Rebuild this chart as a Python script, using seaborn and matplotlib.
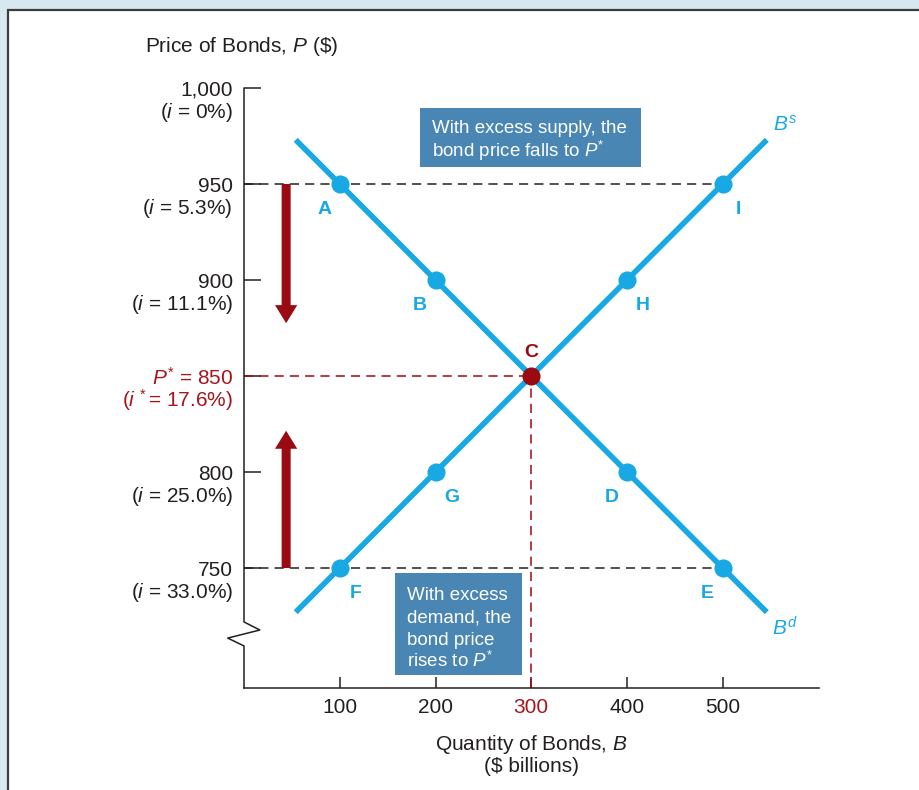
import matplotlib
matplotlib.use("Agg")
import matplotlib.pyplot as plt
from matplotlib.patches import Rectangle
import seaborn as sns
import pandas as pd

sns.set_style("white")
plt.rcParams["font.family"] = ["Liberation Sans", "DejaVu Sans"]
plt.rcParams["mathtext.fontset"] = "custom"
plt.rcParams["mathtext.rm"] = "Liberation Sans"
plt.rcParams["mathtext.it"] = "Liberation Sans:italic"
plt.rcParams["mathtext.bf"] = "Liberation Sans:bold"

# ---- data ----
quantity = [100, 200, 300, 400, 500]
demand_price = [950, 900, 850, 800, 750]
supply_price = [750, 800, 850, 900, 950]
demand_labels = ["A", "B", "C", "D", "E"]
supply_labels = ["F", "G", "C", "H", "I"]

# extent of the drawn curves
line_quantity = [54, 546]
demand_line_price = [973, 727]
supply_line_price = [727, 973]

price_ticks = [1000, 950, 900, 850, 800, 750]
price_tick_labels = ["1,000", "950", "900", "$P^{*}$ = 850", "800", "750"]
rate_labels = ["(${i}$ = 0%)", "(${i}$ = 5.3%)", "(${i}$ = 11.1%)",
               "(${i}^{\\,*}$= 17.6%)", "(${i}$ = 25.0%)", "(${i}$ = 33.0%)"]
quantity_ticks = [100, 200, 300, 400, 500]

eq_q, eq_p = 300, 850
excess_supply_price = 950
excess_demand_price = 750

supply_note = ["With excess supply, the", "bond price falls to $P^{*}$"]
demand_note = ["With excess", "demand, the", "bond price", "rises to $P^{*}$"]

BLUE = "#18a9e4"
RED = "#9a0a12"
TEXT_RED = "#a3161d"
BOX = "#4a86b3"
TXT = "#231f20"

FS = 15

fig = plt.figure(figsize=(9.19, 7.90), dpi=100)
fig.patch.set_facecolor("#d7e8f1")
fig.patches.append(Rectangle((8 / 919, -0.05), 1.0, 1 - 10 / 790 + 0.05,
                             transform=fig.transFigure, facecolor="white",
                             edgecolor="#3c3c3c", linewidth=1.6, zorder=-1))

ax = fig.add_axes([244 / 919, 102 / 790, 574.5 / 919, 600 / 790])
ax.set_facecolor("none")
ax.set_xlim(0, 600)
ax.set_ylim(687.5, 1000)

# curves
curves = pd.DataFrame({
    "q": line_quantity * 2,
    "p": demand_line_price + supply_line_price,
    "curve": ["Bd"] * 2 + ["Bs"] * 2,
})
sns.lineplot(data=curves, x="q", y="p", units="curve", estimator=None,
             color=BLUE, linewidth=4, ax=ax, legend=False,
             solid_capstyle="butt", zorder=3)

# guide lines
dash = dict(color=TXT, linewidth=1.1, dashes=(6, 4), zorder=2)
ax.plot([0, quantity[-1]], [excess_supply_price] * 2, **dash)
ax.plot([0, quantity[-1]], [excess_demand_price] * 2, **dash)
rdash = dict(color=RED, linewidth=1.1, dashes=(6, 4), zorder=2)
ax.plot([0, eq_q], [eq_p, eq_p], **rdash)
ax.plot([eq_q, eq_q], [687.5, eq_p], **rdash)

# points
pts = pd.DataFrame({
    "q": quantity + quantity,
    "p": demand_price + supply_price,
})
pts = pts[~((pts.q == eq_q) & (pts.p == eq_p))]
sns.scatterplot(data=pts, x="q", y="p", color=BLUE, s=170, linewidth=0,
                ax=ax, zorder=4)
ax.scatter([eq_q], [eq_p], color=RED, s=170, linewidth=0, zorder=5)

# point letters
for q, p, lab in zip(quantity, demand_price, demand_labels):
    if lab == "C":
        continue
    ax.annotate(lab, (q, p), xytext=(-11, -18), textcoords="offset points",
                ha="center", va="center", fontsize=14, fontweight="bold",
                color=BLUE)
for q, p, lab in zip(quantity, supply_price, supply_labels):
    if lab == "C":
        continue
    ax.annotate(lab, (q, p), xytext=(11.5, -18), textcoords="offset points",
                ha="center", va="center", fontsize=14, fontweight="bold",
                color=BLUE)
ax.annotate("C", (eq_q, eq_p), xytext=(0, 17), textcoords="offset points",
            ha="center", va="center", fontsize=14, fontweight="bold",
            color=RED)

# curve names
ax.text(565, 981, "$B^{s}$", color=BLUE, fontsize=FS, ha="center", va="center")
ax.text(565, 719, "$B^{d}$", color=BLUE, fontsize=FS, ha="center", va="center")

# price adjustment arrows
arrow_style = "simple,head_width=16,head_length=13,tail_width=6.5"
ax.annotate("", xy=(44, 877.5), xytext=(44, excess_supply_price),
            arrowprops=dict(arrowstyle=arrow_style, color=RED, linewidth=0,
                            shrinkA=0, shrinkB=0, mutation_scale=1))
ax.annotate("", xy=(44, 821.5), xytext=(44, excess_demand_price),
            arrowprops=dict(arrowstyle=arrow_style, color=RED, linewidth=0,
                            shrinkA=0, shrinkB=0, mutation_scale=1))

# text boxes, one baseline per line so the spacing stays even
ax.add_patch(Rectangle((183.8, 958.9), 230.8, 30.7, facecolor=BOX,
                       edgecolor="none", zorder=6))
for i, line in enumerate(supply_note):
    ax.annotate(line, (196.3, 976.7), xytext=(0, -17.3 * i),
                textcoords="offset points", color="white", fontsize=13.5,
                ha="left", va="baseline", zorder=7)
ax.add_patch(Rectangle((157.7, 694.3), 132.6, 53.1, facecolor=BOX,
                       edgecolor="none", zorder=6))
for i, line in enumerate(demand_note):
    ax.annotate(line, (170.2, 733.5), xytext=(0, -16.2 * i),
                textcoords="offset points", color="white", fontsize=13.5,
                ha="left", va="baseline", zorder=7)

# axes: bottom spine kept, left spine drawn with a break
for side in ["left", "top", "right"]:
    ax.spines[side].set_visible(False)
ax.spines["bottom"].set_color(TXT)
ax.spines["bottom"].set_linewidth(1.1)
ax.plot([0, 0, 16.5, -17, 0, 0], [1000, 721.9, 717.7, 713.5, 709.4, 687.5],
        color=TXT, linewidth=1.1, clip_on=False, zorder=2)

ax.set_yticks(price_ticks)
ax.set_yticklabels(price_tick_labels)
ax.tick_params(axis="y", left=True, direction="in", length=12.5, width=1.1,
               color=TXT, labelsize=FS, pad=8, labelcolor=TXT)
ax.set_xticks(quantity_ticks)
ax.set_xticklabels([str(v) for v in quantity_ticks])
ax.tick_params(axis="x", bottom=True, direction="in", length=8, width=1.1,
               color=TXT, labelsize=FS, pad=7, labelcolor=TXT)
for lab in ax.get_yticklabels():
    if "P" in lab.get_text():
        lab.set_color(TEXT_RED)
for lab in ax.get_xticklabels():
    if lab.get_text() == str(eq_q):
        lab.set_color(TEXT_RED)

for p, r in zip(price_ticks, rate_labels):
    ax.annotate(r, (0, p), xytext=(-8, -17.5), textcoords="offset points",
                ha="right", va="center", fontsize=FS,
                color=TEXT_RED if p == eq_p else TXT)

ax.set_xlabel("")
ax.set_ylabel("")

fig.text(145 / 919, 1 - 47 / 790, "Price of Bonds, $P$ (\\$)", fontsize=FS,
         ha="left", va="center", color=TXT)
fig.text(531 / 919, 1 - 754.5 / 790, "Quantity of Bonds, $B$\n(\\$ billions)",
         fontsize=FS, ha="center", va="center", color=TXT, linespacing=1.05)

fig.savefig("out.png", dpi=100, facecolor=fig.get_facecolor())
